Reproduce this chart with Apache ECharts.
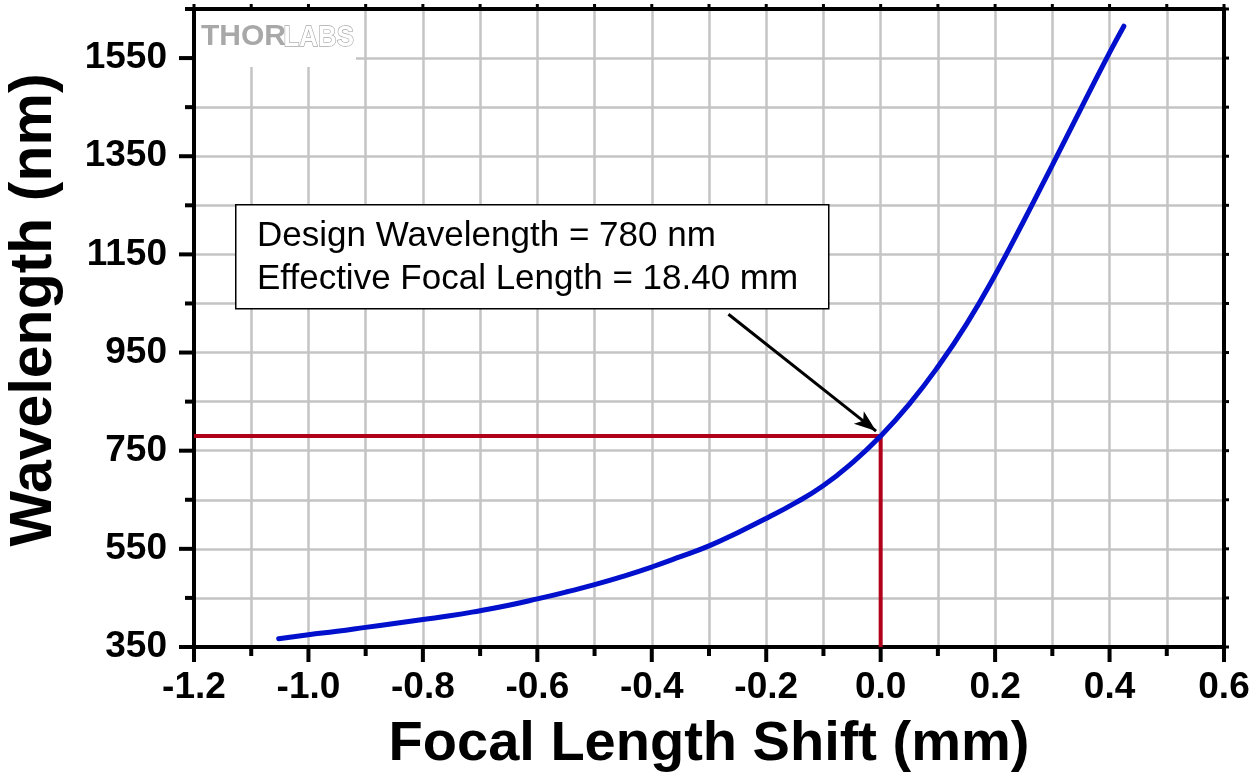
<!DOCTYPE html>
<html>
<head>
<meta charset="utf-8">
<script src="https://cdn.jsdelivr.net/npm/echarts@6/dist/echarts.min.js"></script>
<style>
html,body{margin:0;padding:0;background:#fff;}
#chart{width:1259px;height:778px;}
</style>
</head>
<body>
<div id="chart"></div>
<script>
// Data
const shiftMm = [-1.052, -1.0, -0.95, -0.9, -0.85, -0.8, -0.75, -0.7, -0.65, -0.6, -0.55, -0.5, -0.45, -0.4, -0.35, -0.3, -0.25, -0.2, -0.15, -0.1, -0.05, 0, 0.05, 0.1, 0.15, 0.2, 0.25, 0.3, 0.35, 0.4, 0.425];
const wavelengthNm = [367, 375, 382, 390, 398, 406, 414, 424, 435, 448, 462, 477, 494, 513, 534, 556, 583, 612, 643, 679, 725, 780, 845, 921, 1008, 1108, 1218, 1332, 1447, 1561, 1615];
const designX = [-1.2, 0, 0];
const designY = [780, 780, 350];
const arrowFrom = [-0.266, 1028];
const arrowTo = [-0.008, 790];
const annotationLines = ['Design Wavelength = 780 nm', 'Effective Focal Length = 18.40 mm'];
const xTitle = 'Focal Length Shift (mm)';
const yTitle = 'Wavelength (nm)';
const xMajorTicks = [-1.2, -1.0, -0.8, -0.6, -0.4, -0.2, 0.0, 0.2, 0.4, 0.6];
const xMinorTicks = [-1.1, -0.9, -0.7, -0.5, -0.3, -0.1, 0.1, 0.3, 0.5];
const yMajorTicks = [350, 550, 750, 950, 1150, 1350, 1550];
const yMinorTicks = [450, 650, 850, 1050, 1250, 1450, 1650];

const X_MIN = -1.2, X_MAX = 0.6, Y_MIN = 350, Y_MAX = 1650;
const curve = shiftMm.map((x, i) => [x, wavelengthNm[i]]);
const design = designX.map((x, i) => [x, designY[i]]);

const chart = echarts.init(document.getElementById('chart'));
const F = 'Liberation Sans, Arial, sans-serif';
const gridColor = '#c4c4c4';

chart.setOption({
  animation: false,
  backgroundColor: '#fff',
  grid: { left: 194, right: 35, top: 9, bottom: 131 },
  xAxis: [
    {
      type: 'value', min: X_MIN, max: X_MAX, interval: 0.2, position: 'bottom',
      axisLine: { show: true, onZero: false, lineStyle: { color: '#000', width: 4 } },
      axisTick: { show: false },
      axisLabel: { show: true, color: '#000', fontFamily: F, fontWeight: 'bold', fontSize: 37, margin: 22,
        formatter: v => v.toFixed(1) },
      splitLine: { show: true, lineStyle: { color: gridColor, width: 2.5 } },
      minorSplitLine: { show: true, lineStyle: { color: gridColor, width: 2.5 } },
      minorTick: { show: false, splitNumber: 2 }
    },
    {
      type: 'value', min: X_MIN, max: X_MAX, interval: 0.2, position: 'top',
      axisLine: { show: true, onZero: false, lineStyle: { color: '#000', width: 4 } },
      axisTick: { show: false }, axisLabel: { show: false }, splitLine: { show: false }
    }
  ],
  yAxis: [
    {
      type: 'value', min: Y_MIN, max: Y_MAX, interval: 200, position: 'left',
      axisLine: { show: true, onZero: false, lineStyle: { color: '#000', width: 4 } },
      axisTick: { show: false },
      minorTick: { show: false, splitNumber: 2 },
      axisLabel: { show: true, color: '#000', fontFamily: F, fontWeight: 'bold', fontSize: 37, margin: 27,
        showMaxLabel: false, formatter: v => (v >= 1650 ? '' : String(v)) },
      splitLine: { show: true, lineStyle: { color: gridColor, width: 2.5 } },
      minorSplitLine: { show: true, lineStyle: { color: gridColor, width: 2.5 } }
    },
    {
      type: 'value', min: Y_MIN, max: Y_MAX, interval: 200, position: 'right',
      axisLine: { show: true, onZero: false, lineStyle: { color: '#000', width: 4 } },
      axisTick: { show: false }, axisLabel: { show: false }, splitLine: { show: false }
    }
  ],
  series: [
    {
      type: 'line', data: design, xAxisIndex: 0, yAxisIndex: 0,
      showSymbol: false, symbol: 'none',
      lineStyle: { color: '#b0001a', width: 4 }, z: 3
    },
    {
      type: 'line', data: curve, xAxisIndex: 0, yAxisIndex: 0,
      smooth: 0.5, showSymbol: false, symbol: 'none',
      lineStyle: { color: '#0010cc', width: 5, cap: 'round' }, z: 4,
      markLine: {
        silent: true, animation: false,
        symbol: ['none', 'arrow'], symbolSize: [12, 22],
        label: { show: false },
        lineStyle: { color: '#000', width: 3, type: 'solid' },
        data: [[{ coord: arrowFrom }, { coord: arrowTo }]]
      }
    }
  ]
});

// Tick marks placed through the chart's own scales
const ticks = [];
function addTicks(values, side, len, width) {
  values.forEach(v => {
    const pt = (side === 'bottom') ? [v, Y_MIN] : (side === 'top') ? [v, Y_MAX] : (side === 'left') ? [X_MIN, v] : [X_MAX, v];
    const p = chart.convertToPixel({ xAxisIndex: 0, yAxisIndex: 0 }, pt);
    let x2 = p[0], y2 = p[1];
    if (side === 'bottom') y2 += len;
    else if (side === 'top') y2 -= len;
    else if (side === 'left') x2 -= len;
    else x2 += len;
    ticks.push({ type: 'line', z: 100, silent: true,
      shape: { x1: p[0], y1: p[1], x2: x2, y2: y2 },
      style: { stroke: '#000', lineWidth: width } });
  });
}
addTicks(xMajorTicks, 'bottom', 15, 4);
addTicks(xMinorTicks, 'bottom', 9, 4);
addTicks(yMajorTicks, 'left', 15, 4);
addTicks(yMinorTicks, 'left', 9, 4);
addTicks(xMajorTicks.concat(xMinorTicks), 'top', 5, 3);
addTicks(yMajorTicks.concat(yMinorTicks), 'right', 5, 3);

const decor = [
  { type: 'rect', left: 196, top: 11, shape: { width: 160, height: 56 }, style: { fill: '#fff' }, z: 1 },
  { type: 'text', left: 201, top: 22, z: 2,
    style: { text: 'THOR', font: 'bold 30px ' + F, fill: '#a8a8a8' } },
  { type: 'text', left: 283, top: 22, z: 2, scaleX: 0.86,
    style: { text: 'LABS', font: 'bold 30px ' + F, fill: '#ffffff', stroke: '#a8a8a8', lineWidth: 1.4 } },
  { type: 'rect', left: 235, top: 204, z: 10,
    shape: { width: 593, height: 104 }, style: { fill: '#fff', stroke: '#000', lineWidth: 1.5 } },
  { type: 'text', left: 257, top: 219, z: 11,
    style: { text: annotationLines[0], font: '35px ' + F, fill: '#000' } },
  { type: 'text', left: 257, top: 262, z: 11,
    style: { text: annotationLines[1], font: '35px ' + F, fill: '#000' } },
  { type: 'text', x: 709, y: 745, z: 11,
    style: { text: xTitle, font: 'bold 56px ' + F, fill: '#000', align: 'center', verticalAlign: 'middle' } },
  { type: 'text', x: 35, y: 310, rotation: Math.PI / 2, z: 11,
    style: { text: yTitle, font: 'bold 59px ' + F, fill: '#000', align: 'center', verticalAlign: 'middle' } }
];

chart.setOption({ graphic: ticks.concat(decor) });
</script>
</body>
</html>
